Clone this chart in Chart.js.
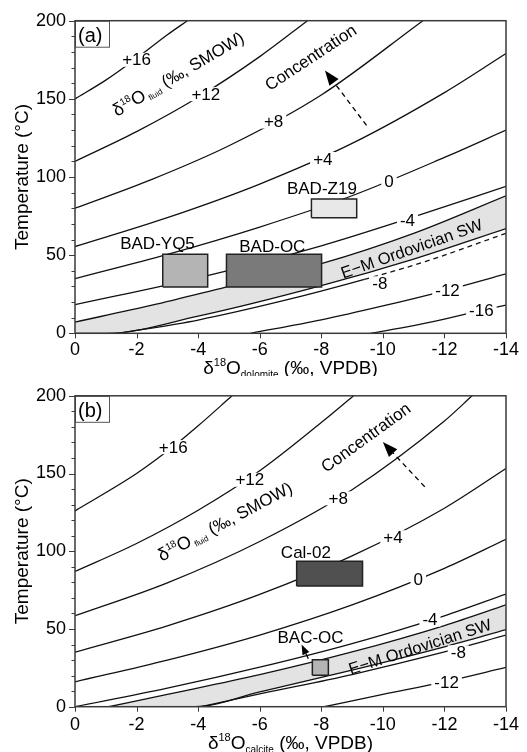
<!DOCTYPE html>
<html>
<head>
  <title>Temperature vs d18O</title>
  <script src="https://cdn.jsdelivr.net/npm/chart.js"></script>
  <style>
    body { margin: 0; background: #fff; }
    canvas { display: block; }
  </style>
</head>
<body>
  <canvas id="chartA" width="527" height="376"></canvas>
  <canvas id="chartB" width="527" height="376"></canvas>
  <script>
    const FONT = '"Liberation Sans", Arial, sans-serif';

    const xTicks = [0, -2, -4, -6, -8, -10, -12, -14];
    const yTicks = [0, 50, 100, 150, 200];

    // (a) dolomite - fluid contours as [d18O dolomite, T]
    const dolP16 = [[0, 150], [-1, 162], [-2, 176], [-3, 191], [-3.65, 200]];
    const dolP12 = [[0, 110], [-2, 129], [-4, 151], [-6, 177], [-7.55, 200]];
    const dolP8 = [[0, 80], [-2.5, 98.5], [-5, 120], [-8, 152.5], [-11.3, 200]];
    const dolP4 = [[0, 55.5], [-3, 74], [-6, 95.5], [-9, 121.5], [-12, 154], [-14, 179]];
    const dol0 = [[0, 35], [-3, 50.5], [-6, 68], [-9, 88], [-12, 112.5], [-14, 130]];
    const dolM4 = [[0, 18.3], [-4, 35.5], [-8, 56], [-11, 74.5], [-14, 94]];
    const dolM8 = [[-1.4, 0], [-4, 8.5], [-6.8, 21], [-9.4, 34.5], [-11.4, 46], [-14, 64]];
    const dolM12 = [[-5.7, 0], [-8, 8.6], [-10, 17.5], [-12, 27.2], [-14, 38]];
    const dolM16 = [[-9.6, 0], [-11, 4.9], [-12, 9.1], [-13.2, 14.6], [-14, 18]];
    const dolBandTop = [[0, 7.2], [-2.5, 18], [-4.9, 29.6], [-8, 44.6], [-11, 64], [-14, 88]];
    const dolBandBottom = [[0, 0], [-1, 0], [-4, 11], [-8, 30.5], [-11, 47.5], [-14, 67]];

    const dolLabels = ['+16', '+12', '+8', '+4', '0', '-4', '-8', '-12', '-16'];
    const dolLabelX = [-2.0, -4.25, -6.45, -8.05, -10.2, -10.8, -9.9, -12.1, -13.2];
    const dolLabelY = [175, 153, 135.5, 111.5, 97, 72, 32, 27.3, 14.7];

    const dolBoxNames = ['BAD-YQ5', 'BAD-OC', 'BAD-Z19'];
    const dolBoxX = [[-2.85, -4.31], [-4.92, -8.01], [-7.68, -9.15]];
    const dolBoxY = [[29.6, 50.5], [29.6, 50.5], [74, 86]];
    const dolBoxLabelX = [-2.68, -6.41, -8.02];
    const dolBoxLabelY = [57.8, 55.6, 93];

    // (b) calcite - fluid contours as [d18O calcite, T]
    const calP16 = [[0, 126], [-2, 150], [-3.2, 167.5], [-4, 180.7], [-5.1, 200]];
    const calP12 = [[0, 87], [-2, 105], [-4, 126.4], [-6, 151.8], [-8, 182.8], [-9.05, 200]];
    const calP8 = [[0, 58.5], [-3, 79.7], [-6, 106.3], [-9, 139.6], [-12, 183.8], [-12.9, 200]];
    const calP4 = [[0, 35.1], [-3, 52], [-6, 72.2], [-9, 97], [-12, 127.7], [-14, 153.2]];
    const cal0 = [[0, 16], [-3, 30], [-6, 46.1], [-9, 65.5], [-12, 89], [-14, 107.7]];
    const calM4 = [[0, 0], [-3, 11.9], [-6, 25.4], [-9, 40.6], [-12, 58.5], [-14, 72.5]];
    const calM8 = [[-4.1, 0], [-6, 8.2], [-9, 20.7], [-12, 35.2], [-14, 46]];
    const calM12 = [[-8.1, 0], [-10, 7.9], [-12, 16], [-14, 25.3]];
    const calBandTop = [[-1.1, 0], [-3, 7.9], [-6, 20.6], [-9, 35.2], [-12, 52.2], [-14, 65.5]];
    const calBandBottom = [[-1.1, 0], [-3.9, 0], [-6, 9.5], [-9, 23.5], [-12, 38.5], [-14, 49.6]];

    const calLabels = ['+16', '+12', '+8', '+4', '0', '-4', '-8', '-12'];
    const calLabelX = [-3.19, -5.68, -8.55, -10.33, -11.15, -11.53, -12.45, -12.07];
    const calLabelY = [167, 146, 134, 109, 82, 56, 35, 16];

    const calBoxNames = ['BAC-OC', 'Cal-02'];
    const calBoxX = [[-7.71, -8.23], [-7.2, -9.34]];
    const calBoxY = [[20.2, 30.2], [77.6, 93.6]];
    const calBoxLabelX = [-7.65, -7.5];
    const calBoxLabelY = [44.5, 99.4];

    function pts(arr) {
      return arr.map(p => ({ x: p[0], y: p[1] }));
    }

    function curve(arr, extra) {
      return Object.assign({
        data: pts(arr),
        borderColor: '#111',
        borderWidth: 1.3,
        pointRadius: 0,
        fill: false,
        cubicInterpolationMode: 'monotone'
      }, extra || {});
    }

    function boxSet(xr, yr, color) {
      return {
        data: pts([[xr[0], yr[0]], [xr[1], yr[0]], [xr[1], yr[1]], [xr[0], yr[1]], [xr[0], yr[0]]]),
        borderColor: '#222',
        borderWidth: 1.5,
        backgroundColor: color,
        pointRadius: 0,
        tension: 0,
        fill: 'shape'
      };
    }

    function richText(ctx, parts, cx, cy, deg) {
      ctx.save();
      ctx.translate(cx, cy);
      ctx.rotate(deg * Math.PI / 180);
      let total = 0;
      parts.forEach(p => { ctx.font = p[1] + 'px ' + FONT; total += ctx.measureText(p[0]).width; });
      let x = -total / 2;
      ctx.textAlign = 'left';
      ctx.textBaseline = 'alphabetic';
      parts.forEach(p => {
        ctx.font = p[1] + 'px ' + FONT;
        ctx.fillText(p[0], x, 6 + (p[2] || 0));
        x += ctx.measureText(p[0]).width;
      });
      ctx.restore();
    }

    function arrow(ctx, x0, y0, x1, y1, dashed, head) {
      const ang = Math.atan2(y1 - y0, x1 - x0);
      const hx = x1 - head * Math.cos(ang), hy = y1 - head * Math.sin(ang);
      ctx.lineWidth = 1.3;
      ctx.setLineDash(dashed ? [5, 4] : []);
      ctx.beginPath(); ctx.moveTo(x0, y0); ctx.lineTo(hx, hy); ctx.stroke();
      ctx.setLineDash([]);
      const w = head * 0.38;
      ctx.beginPath();
      ctx.moveTo(x1, y1);
      ctx.lineTo(hx + w * Math.sin(ang), hy - w * Math.cos(ang));
      ctx.lineTo(hx - w * Math.sin(ang), hy + w * Math.cos(ang));
      ctx.closePath();
      ctx.fill();
    }

    function panelPlugin(p) {
      return {
        id: 'panel' + p.tag,
        afterDatasetsDraw(chart) {
          const ctx = chart.ctx, xs = chart.scales.x, ys = chart.scales.y, a = chart.chartArea;
          const px = v => xs.getPixelForValue(v), py = v => ys.getPixelForValue(v);
          ctx.save();
          ctx.beginPath();
          ctx.rect(a.left, a.top, a.right - a.left, a.bottom - a.top);
          ctx.clip();

          // contour labels sitting in gaps of the lines
          ctx.font = '17px ' + FONT;
          ctx.textAlign = 'center';
          ctx.textBaseline = 'middle';
          p.labels.forEach((t, i) => {
            const x = px(p.labelX[i]), y = py(p.labelY[i]);
            const w = ctx.measureText(t).width;
            ctx.fillStyle = '#fff';
            ctx.fillRect(x - w / 2 - 3, y - 7, w + 6, 14);
            ctx.fillStyle = '#000';
            ctx.fillText(t, x, y + 1);
          });

          p.boxNames.forEach((t, i) => {
            ctx.fillText(t, px(p.boxLabelX[i]), py(p.boxLabelY[i]) + 1);
          });

          ctx.fillStyle = '#000';
          ctx.strokeStyle = '#000';
          richText(ctx, [['δ', 18], ['18', 10, -7], ['O', 18], [' fluid', 8, 3], [' (‰, SMOW)', 17]],
            px(p.fluid[0]), py(p.fluid[1]), p.fluid[2]);
          richText(ctx, [['Concentration', 17]], px(p.conc[0]), py(p.conc[1]), p.conc[2]);
          richText(ctx, [['E−M Ordovician SW', 16.5]], px(p.sw[0]), py(p.sw[1]), p.sw[2]);

          p.arrows.forEach(r => arrow(ctx, px(r[0]), py(r[1]), px(r[2]), py(r[3]), r[4], r[5]));
          ctx.restore();

          // panel tag box
          ctx.save();
          ctx.strokeStyle = '#555';
          ctx.lineWidth = 1;
          ctx.strokeRect(a.left + 0.5, a.top + 0.5, 34, 26);
          ctx.font = '20px ' + FONT;
          ctx.fillStyle = '#000';
          ctx.textAlign = 'left';
          ctx.textBaseline = 'alphabetic';
          ctx.fillText(p.tag, a.left + 3, a.top + 21);

          // frame and ticks
          ctx.strokeStyle = '#3a3a3a';
          ctx.lineWidth = 1.5;
          ctx.strokeRect(a.left, a.top, a.right - a.left, a.bottom - a.top);
          ctx.lineWidth = 1;
          ctx.beginPath();
          for (let v = 0; v <= 200; v += 10) {
            const y = Math.round(py(v)) + 0.5;
            ctx.moveTo(a.left, y);
            ctx.lineTo(a.left - (v % 50 === 0 ? 6 : 3.5), y);
          }
          xTicks.forEach(v => {
            const x = Math.round(px(v)) + 0.5;
            ctx.moveTo(x, a.bottom);
            ctx.lineTo(x, a.bottom + 5);
          });
          ctx.stroke();

          // axis titles
          ctx.fillStyle = '#000';
          richText(ctx, [['Temperature (°C)', 19]], 22, (a.top + a.bottom) / 2, -90);
          richText(ctx, [['δ', 19], ['18', 11, -8], ['O', 19], [p.sub, 10, 4], [' (‰, VPDB)', 19]],
            (a.left + a.right) / 2, p.titleY, 0);
          ctx.restore();
        }
      };
    }

    function makeChart(id, p) {
      return new Chart(document.getElementById(id), {
        type: 'line',
        data: { datasets: p.datasets },
        options: {
          responsive: false,
          animation: false,
          events: [],
          layout: { padding: { top: p.top, right: 21, left: 0, bottom: 0 } },
          plugins: { legend: { display: false }, tooltip: { enabled: false } },
          scales: {
            x: {
              type: 'linear', min: -14, max: 0, reverse: true,
              afterBuildTicks: s => { s.ticks = xTicks.map(v => ({ value: v })); },
              afterFit: s => { s.height = p.xh; },
              grid: { display: false, drawTicks: false },
              border: { display: false },
              ticks: { font: { family: FONT, size: 18 }, color: '#000', padding: p.xpad, maxRotation: 0 }
            },
            y: {
              type: 'linear', min: 0, max: 200,
              afterBuildTicks: s => { s.ticks = yTicks.map(v => ({ value: v })); },
              afterFit: s => { s.width = 75; },
              grid: { display: false, drawTicks: false },
              border: { display: false },
              ticks: { font: { family: FONT, size: 18 }, color: '#000', padding: 9 }
            }
          }
        },
        plugins: [panelPlugin(p)]
      });
    }

    const dashAfter = lim => ({ borderDash: c => (c.p0.parsed.x <= lim ? [5, 4] : undefined) });

    makeChart('chartA', {
      tag: '(a)', sub: 'dolomite', top: 20.7, xh: 42.7, xpad: 6, titleY: 368,
      labels: dolLabels, labelX: dolLabelX, labelY: dolLabelY,
      boxNames: dolBoxNames, boxLabelX: dolBoxLabelX, boxLabelY: dolBoxLabelY,
      fluid: [-3.35, 166, -30.6], conc: [-7.65, 176.7, -33.5], sw: [-10.93, 54.4, -19.4],
      arrows: [[-9.47, 133, -8.12, 168.2, true, 15]],
      datasets: [
        boxSet(dolBoxX[0], dolBoxY[0], '#b4b4b4'),
        boxSet(dolBoxX[1], dolBoxY[1], '#7a7a7a'),
        boxSet(dolBoxX[2], dolBoxY[2], '#e8e8e8'),
        curve(dolP16), curve(dolP12), curve(dolP8), curve(dolP4), curve(dol0), curve(dolM4),
        curve(dolM8, { segment: dashAfter(-9.4) }), curve(dolM12), curve(dolM16),
        curve(dolBandBottom),
        curve(dolBandTop, { fill: '-1', backgroundColor: '#e3e3e3' })
      ]
    });

    makeChart('chartB', {
      tag: '(b)', sub: 'calcite', top: 17.3, xh: 45.3, xpad: 8, titleY: 367,
      labels: calLabels, labelX: calLabelX, labelY: calLabelY,
      boxNames: calBoxNames, boxLabelX: calBoxLabelX, boxLabelY: calBoxLabelY,
      fluid: [-4.87, 119.2, -28], conc: [-9.44, 173.4, -36], sw: [-11.2, 38.9, -17.8],
      arrows: [[-11.36, 141.5, -10.0, 170.2, true, 15], [-7.58, 30.9, -7.36, 40, false, 10]],
      datasets: [
        boxSet(calBoxX[0], calBoxY[0], '#b4b4b4'),
        boxSet(calBoxX[1], calBoxY[1], '#505050'),
        curve(calP16), curve(calP12), curve(calP8), curve(calP4), curve(cal0), curve(calM4),
        curve(calM8), curve(calM12),
        curve(calBandBottom),
        curve(calBandTop, { fill: '-1', backgroundColor: '#e3e3e3' })
      ]
    });
  </script>
</body>
</html>
